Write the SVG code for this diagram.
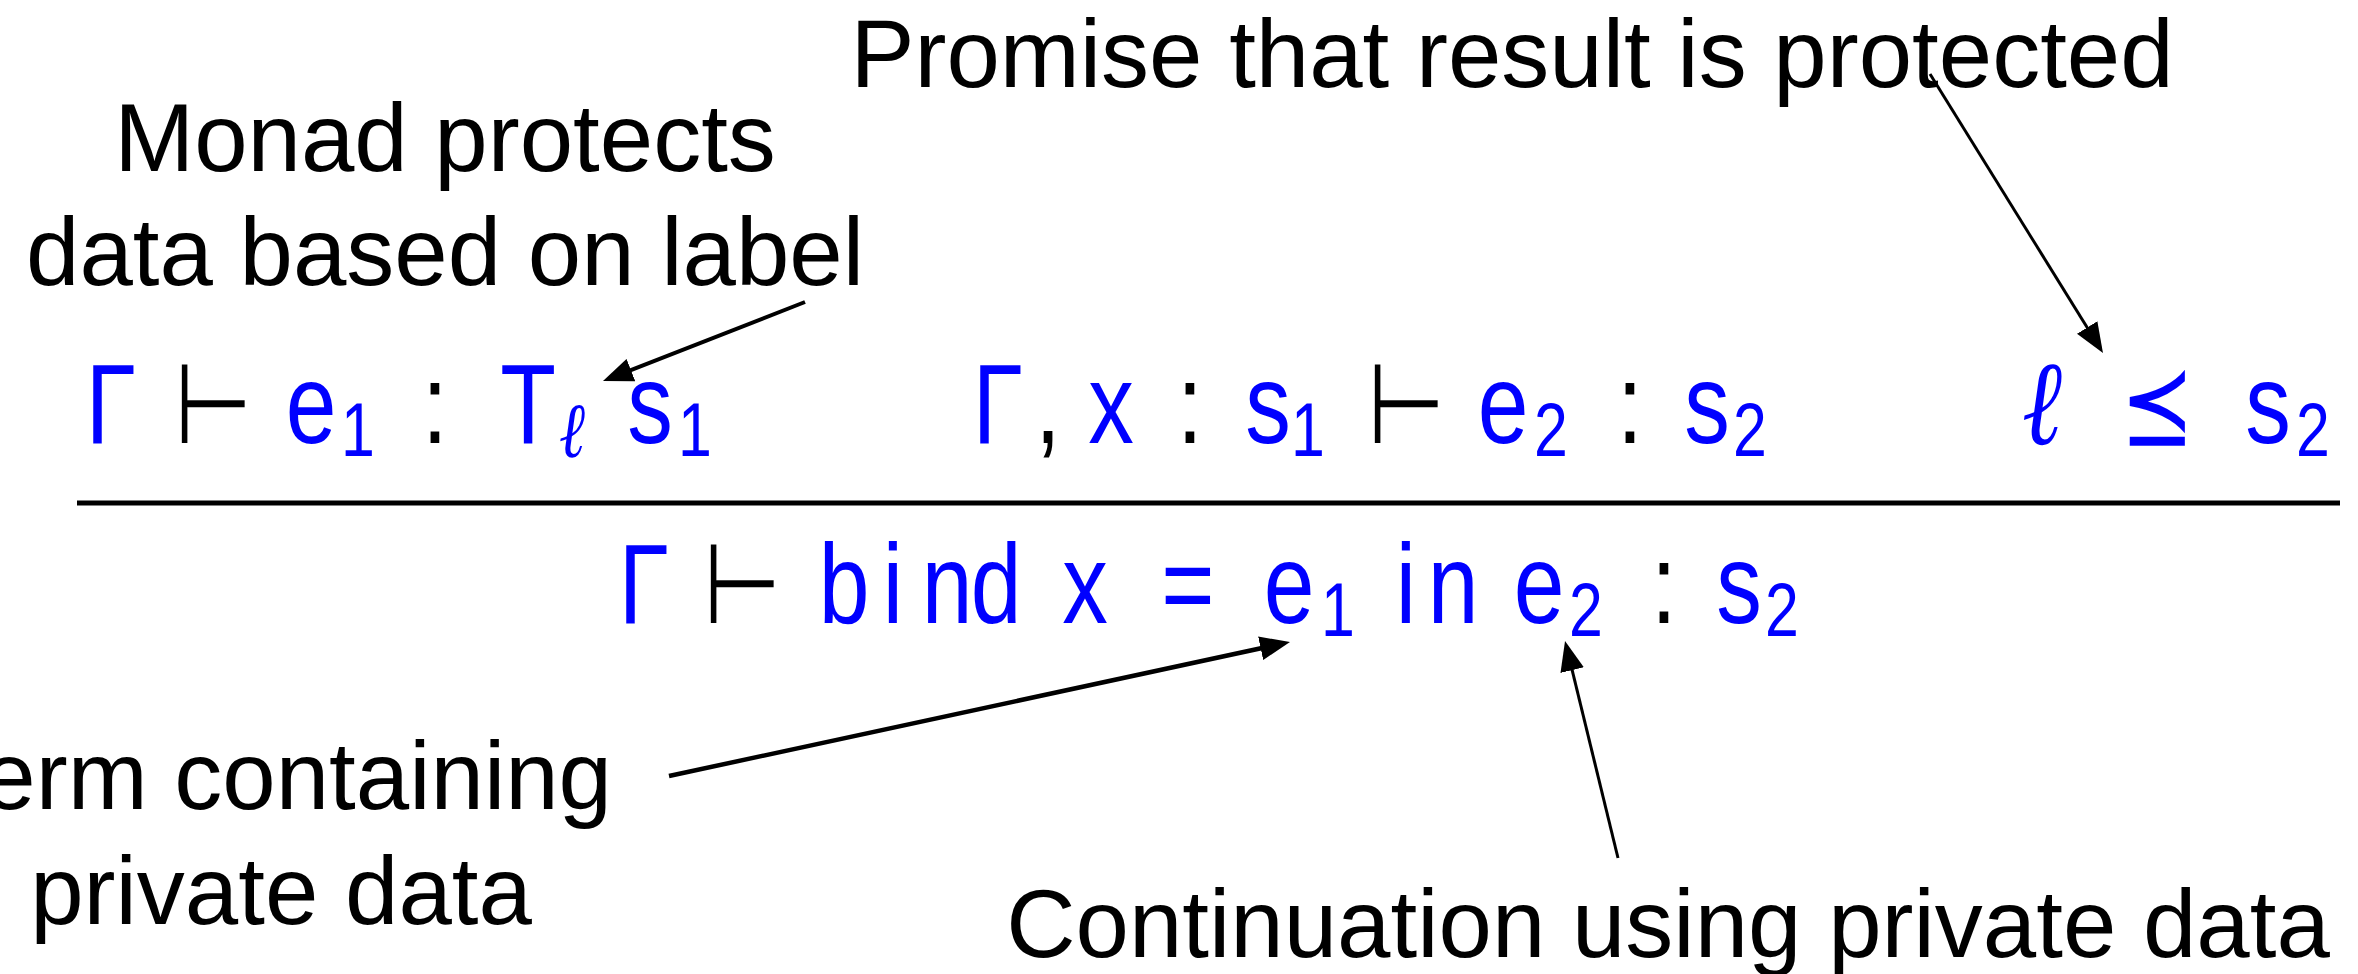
<svg xmlns="http://www.w3.org/2000/svg" width="2358" height="974" viewBox="0 0 2358 974">
<style>
.lbl{font-family:"Liberation Sans",Arial,sans-serif;font-size:96px;fill:#000;text-anchor:middle}
.m{font-family:"Liberation Sans",Arial,sans-serif;font-size:114px;fill:#0000ff;text-anchor:middle}
.sub{font-family:"Liberation Sans",Arial,sans-serif;font-size:76px;fill:#0000ff;text-anchor:middle}
.k{font-family:"Liberation Sans",Arial,sans-serif;font-size:114px;fill:#000;text-anchor:middle}
.turn{font-family:"DejaVu Sans",sans-serif;font-size:112px;fill:#000;text-anchor:middle}
.ell{font-family:"Liberation Serif","DejaVu Serif",serif;font-style:italic;fill:#0000ff;text-anchor:middle}
.rel{font-family:"DejaVu Sans",sans-serif;font-size:110px;fill:#0000ff;text-anchor:middle}
.conn{stroke:#000;fill:none}
</style>
<defs>
<marker id="ah" markerUnits="userSpaceOnUse" markerWidth="30" markerHeight="24" refX="20" refY="12" orient="auto">
<path d="M0,0 L30,12 L0,24 z" fill="#000"/>
</marker>
</defs>
<rect width="2358" height="974" fill="#fff"/>

<g id="label-monad">
<text class="lbl" x="445" y="171">Monad protects</text>
<text class="lbl" x="445" y="285">data based on label</text>
</g>
<g id="label-promise">
<text class="lbl" x="1512" y="87">Promise that result is protected</text>
</g>
<g id="label-term">
<text class="lbl" x="612" y="809" style="text-anchor:end">Term containing</text>
<text class="lbl" x="281" y="924">private data</text>
</g>
<g id="label-continuation">
<text class="lbl" x="1668" y="957">Continuation using private data</text>
</g>

<g id="premise-1" transform="scale(0.8 1)">
<text class="m" x="138.75" y="443">Γ</text>
<text class="turn" x="266.25" y="443">⊢</text>
<text class="m" x="388.75" y="443">e</text>
<text class="sub" x="447.5" y="456">1</text>
<text class="k" x="543.75" y="443">:</text>
<text class="m" x="660" y="443">T</text>
<text class="ell" x="715" y="457" font-size="78">ℓ</text>
<text class="m" x="812.5" y="443">s</text>
<text class="sub" x="868.75" y="456">1</text>
</g>
<g id="premise-2" transform="scale(0.8 1)">
<text class="m" x="1247.5" y="443">Γ</text>
<text class="k" x="1310" y="443">,</text>
<text class="m" x="1388.75" y="443">x</text>
<text class="k" x="1487.5" y="443">:</text>
<text class="m" x="1585" y="443">s</text>
<text class="sub" x="1635" y="456">1</text>
<text class="turn" x="1757.5" y="443">⊢</text>
<text class="m" x="1878.75" y="443">e</text>
<text class="sub" x="1938.75" y="456">2</text>
<text class="k" x="2037.5" y="443">:</text>
<text class="m" x="2133.75" y="443">s</text>
<text class="sub" x="2187.5" y="456">2</text>
</g>
<g id="premise-3" transform="scale(0.8 1)">
<text class="ell" x="2552.5" y="444" font-size="120">ℓ</text>
<text class="rel" x="2696.25" y="443">⪯</text>
<text class="m" x="2835" y="443">s</text>
<text class="sub" x="2891.25" y="456">2</text>
</g>

<g id="rule-bar">
<line x1="77" y1="503" x2="2340" y2="503" stroke="#000" stroke-width="5"/>
</g>

<g id="conclusion" transform="scale(0.8 1)">
<text class="m" x="805" y="623">Γ</text>
<text class="turn" x="927.5" y="623">⊢</text>
<text class="m" x="1055" y="623">b</text>
<text class="m" x="1116.25" y="623">i</text>
<text class="m" x="1183.75" y="623">n</text>
<text class="m" x="1245" y="623">d</text>
<text class="m" x="1356.25" y="623">x</text>
<text class="m" x="1485" y="623">=</text>
<text class="m" x="1611.25" y="623">e</text>
<text class="sub" x="1672.5" y="636">1</text>
<text class="m" x="1757.5" y="623">i</text>
<text class="m" x="1816.25" y="623">n</text>
<text class="m" x="1923.75" y="623">e</text>
<text class="sub" x="1982.5" y="636">2</text>
<text class="k" x="2080" y="623">:</text>
<text class="m" x="2173.75" y="623">s</text>
<text class="sub" x="2227.5" y="636">2</text>
</g>

<g id="connectors">
<line class="conn" x1="805" y1="302" x2="612.3" y2="377.4" stroke-width="4" marker-end="url(#ah)"/>
<line class="conn" x1="1930" y1="74" x2="2097.7" y2="344.5" stroke-width="3" marker-end="url(#ah)"/>
<line class="conn" x1="669" y1="776" x2="1280.2" y2="644.1" stroke-width="4.5" marker-end="url(#ah)"/>
<line class="conn" x1="1618" y1="858" x2="1567.4" y2="650.7" stroke-width="3" marker-end="url(#ah)"/>
</g>
</svg>
